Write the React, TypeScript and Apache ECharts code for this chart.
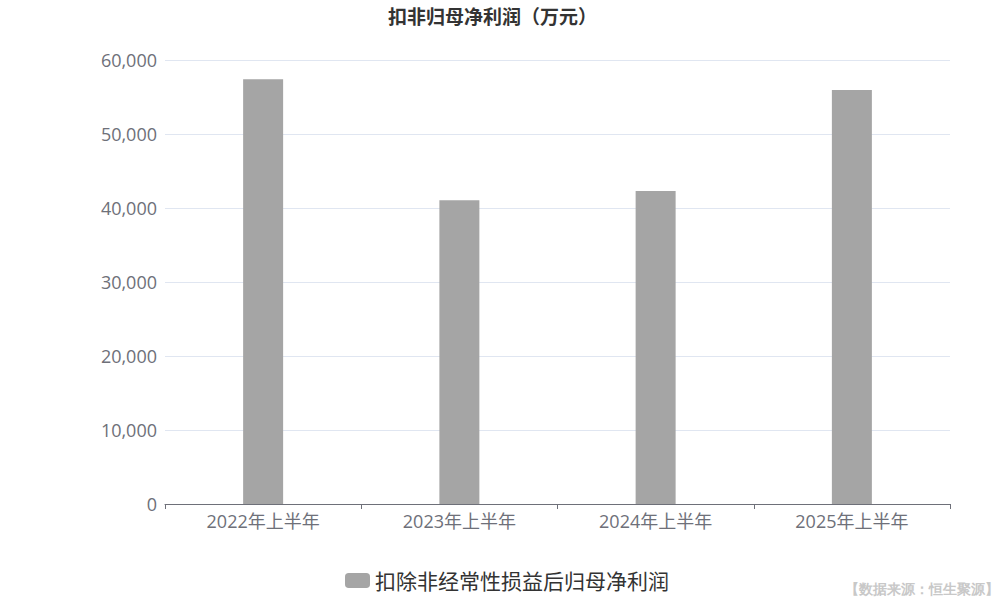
import React, { useEffect, useRef } from "react";
import * as echarts from "echarts";

const categories = ["2022年上半年", "2023年上半年", "2024年上半年", "2025年上半年"];
const values = [57400, 41050, 42300, 55950];
const seriesName = "扣除非经常性损益后归母净利润";
const titleText = "扣非归母净利润（万元）";
const sourceText = "【数据来源：恒生聚源】";

export default function App() {
  const ref = useRef<HTMLDivElement>(null);
  useEffect(() => {
    const chart = echarts.init(ref.current!, null, { renderer: "svg" });
    chart.setOption({
      animation: false,
      textStyle: { fontFamily: "'Open Sans', 'Noto Sans CJK SC', sans-serif" },
      title: {
        text: titleText,
        left: 383,
        top: 2,
        textStyle: { fontSize: 19, fontWeight: "bold", color: "#333" },
      },
      grid: { left: 165, right: 50, top: 60, bottom: 96 },
      xAxis: {
        type: "category",
        data: categories,
        axisLine: { lineStyle: { color: "#6e7079" } },
        axisTick: { show: true, lineStyle: { color: "#6e7079" } },
        axisLabel: { fontSize: 18, color: "#6e7079", margin: 8 },
      },
      yAxis: {
        type: "value",
        min: 0,
        max: 60000,
        interval: 10000,
        axisLabel: {
          fontSize: 18,
          color: "#6e7079",
          margin: 8,
          formatter: (v: number) => v.toLocaleString("en-US"),
        },
        splitLine: { lineStyle: { color: "#e0e6f1" } },
      },
      legend: {
        bottom: 4,
        left: 340,
        itemWidth: 25,
        itemHeight: 15,
        itemGap: 10,
        textStyle: { fontSize: 21, color: "#333" },
        data: [seriesName],
      },
      graphic: [
        {
          type: "text",
          right: 1,
          bottom: 4,
          style: { text: sourceText, fontSize: 13.5, fill: "#c8c8c8", fontWeight: "bold" },
        },
      ],
      series: [
        {
          name: seriesName,
          type: "bar",
          data: values,
          barWidth: 40,
          itemStyle: { color: "#a5a5a5" },
        },
      ],
    });
    return () => chart.dispose();
  }, []);
  return <div ref={ref} style={{ width: 1000, height: 600, position: "absolute", left: 0, top: 0 }} />;
}
